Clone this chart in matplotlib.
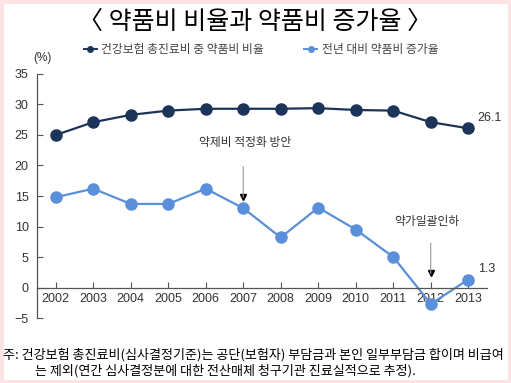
import numpy as np
import matplotlib.pyplot as plt
from matplotlib.lines import Line2D
from matplotlib.patches import Rectangle

plt.rcParams['font.family'] = ['Noto Sans CJK KR', 'DejaVu Sans']

# ____________________________________________________________
# data

years = [2002, 2003, 2004, 2005, 2006, 2007, 2008, 2009, 2010, 2011, 2012, 2013]
drug_share = [25.0, 27.1, 28.3, 29.0, 29.3, 29.3, 29.3, 29.4, 29.1, 29.0, 27.1, 26.1]
drug_growth = [14.8, 16.2, 13.7, 13.7, 16.2, 13.0, 8.2, 13.1, 9.5, 5.0, -2.7, 1.3]

share_label = '건강보험 총진료비 중 약품비 비율'
growth_label = '전년 대비 약품비 증가율'
title = '〈 약품비 비율과 약품비 증가율 〉'
note1 = '주: 건강보험 총진료비(심사결정기준)는 공단(보험자) 부담금과 본인 일부부담금 합이며 비급여'
note2 = '는 제외(연간 심사결정분에 대한 전산매체 청구기관 진료실적으로 추정).'

dark = '#1c3459'
light = '#5a8fd9'
grey = '#333333'

# ____________________________________________________________
# plot

fig = plt.figure(figsize=(5.11, 3.83), dpi=100)
fig.patches.append(Rectangle((0, 0), 1, 1, transform=fig.transFigure,
                             fill=False, edgecolor='#fbe3e6', linewidth=5))
ax = fig.add_axes([0.0724, 0.1697, 0.8806, 0.6371])

ax.plot(years, drug_share, color=dark, marker='o', markersize=8, linewidth=1.6)
ax.plot(years, drug_growth, color=light, marker='o', markersize=8, linewidth=1.6)

ax.set_xlim(2001.5, 2013.5)
ax.set_ylim(-5, 35)
ax.set_yticks([-5, 0, 5, 10, 15, 20, 25, 30, 35])
ax.set_yticklabels(['\u22125', '0', '5', '10', '15', '20', '25', '30', '35'])
ax.set_xticks(years)
ax.set_xticklabels([str(y) for y in years])

for side in ['top', 'right']:
    ax.spines[side].set_visible(False)
ax.spines['bottom'].set_position(('data', 0))
for side in ['left', 'bottom']:
    ax.spines[side].set_color('#555555')
    ax.spines[side].set_linewidth(0.9)
ax.tick_params(direction='in', length=4, color='#555555', labelcolor=grey)
for lab in ax.get_xticklabels() + ax.get_yticklabels():
    lab.set_family(['Liberation Sans', 'DejaVu Sans'])
    lab.set_fontsize(9)
ax.tick_params(axis='y', pad=6)
ax.tick_params(axis='x', pad=4)

# value labels
ax.text(years[-1] + 0.25, drug_share[-1] + 1.2, f'{drug_share[-1]:.1f}', fontsize=9,
        color=grey, family=['Liberation Sans'])
ax.text(years[-1] + 0.25, drug_growth[-1] + 1.2, f'{drug_growth[-1]:.1f}', fontsize=9,
        color=grey, family=['Liberation Sans'])

# annotations
ax.annotate('', xy=(2007, 14.8), xytext=(2007, 19.8),
            arrowprops=dict(arrowstyle='-', color='#999999', lw=0.8,
                            shrinkA=0, shrinkB=0))
ax.plot([2007], [14.9], marker='v', color='black', markersize=4)
ax.text(2007.05, 23.2, '약제비 적정화 방안', fontsize=8.5, color=grey, ha='center')
ax.annotate('', xy=(2012, 2.3), xytext=(2012, 7.3),
            arrowprops=dict(arrowstyle='-', color='#999999', lw=0.8,
                            shrinkA=0, shrinkB=0))
ax.plot([2012], [2.4], marker='v', color='black', markersize=4)
ax.text(2011.9, 10.3, '약가일괄인하', fontsize=8.5, color=grey, ha='center')

# legend
leg = ax.legend([Line2D([], [], color=dark, marker='o', markersize=4, linewidth=1.4),
                 Line2D([], [], color=light, marker='o', markersize=4, linewidth=1.4)],
                [share_label, growth_label], loc='lower left',
                bbox_to_anchor=(0.08, 1.03), ncol=2, frameon=False, fontsize=8.5,
                handlelength=1.1, handletextpad=0.4, columnspacing=3.4)
for t in leg.get_texts():
    t.set_color('#444444')

fig.text(33 / 511, 1 - 58 / 383, '(%)', fontsize=8.5, color=grey,
         family=['Liberation Sans'], va='center')
fig.text(0.5, 1 - 22 / 383, title, fontsize=18, ha='center', va='center', color='black')
fig.text(3 / 511, 1 - 355 / 383, note1, fontsize=9.4, va='center', color='black')
fig.text(35 / 511, 1 - 371 / 383, note2, fontsize=9.4, va='center', color='black')

fig.savefig('out.png', dpi=100)
